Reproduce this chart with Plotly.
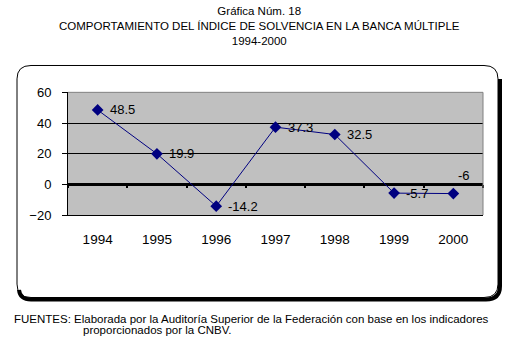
import plotly.graph_objects as go

# ---- data ----
years = ["1994", "1995", "1996", "1997", "1998", "1999", "2000"]
values = [48.5, 19.9, -14.2, 37.3, 32.5, -5.7, -6]
labels = ["48.5", "19.9", "-14.2", "37.3", "32.5", "-5.7", "-6"]
y_ticks = [-20, 0, 20, 40, 60]
title_lines = ["Gráfica Núm. 18",
               "COMPORTAMIENTO DEL ÍNDICE DE SOLVENCIA EN LA BANCA MÚLTIPLE",
               "1994-2000"]
source_lines = ["FUENTES: Elaborada por la Auditoría Superior de la Federación con base en los indicadores",
                "proporcionados por la CNBV."]

W, H = 518, 364
FONT = "Liberation Sans, Arial, sans-serif"


def px(x):
    return x / W


def py(y):
    return 1 - y / H


# plot area in pixels
PL, PR, PT, PB = 68, 483, 89, 217
ymin, ymax = -20, 60
ydom = [py(PB), py(PT)]
zero_pos = ydom[0] + (0 - ymin) / (ymax - ymin) * (ydom[1] - ydom[0])

fig = go.Figure()
fig.add_trace(go.Scatter(
    x=years, y=values, mode="lines+markers",
    line=dict(color="#000080", width=1),
    marker=dict(symbol="diamond", size=9, color="#000080"),
    hoverinfo="skip", showlegend=False,
))
# invisible trace carrying the zero-crossing tick axis
fig.add_trace(go.Scatter(
    x=years, y=values, xaxis="x2", mode="markers",
    marker=dict(opacity=0), hoverinfo="skip", showlegend=False,
))

# data labels (x given as category index)
for i, (v, t) in enumerate(zip(values, labels)):
    if i == len(years) - 1:
        xs, ys = 3, 18
    else:
        xs, ys = 10, 0
    fig.add_annotation(x=i, y=v, xref="x", yref="y", text=t, showarrow=False,
                       xanchor="left", yanchor="middle", xshift=xs, yshift=ys,
                       font=dict(family=FONT, size=13, color="black"))

# title block
fig.add_annotation(x=0.5, y=py(20), xref="paper", yref="paper",
                   text="<br>".join(title_lines),
                   showarrow=False, xanchor="center", yanchor="middle", align="center",
                   font=dict(family=FONT, size=11.5, color="black"))

# footer
fig.add_annotation(x=px(12), y=py(325), xref="paper", yref="paper",
                   text=source_lines[0],
                   showarrow=False, xanchor="left", yanchor="middle",
                   font=dict(family=FONT, size=11.5, color="black"))
fig.add_annotation(x=px(81), y=py(337), xref="paper", yref="paper",
                   text=source_lines[1],
                   showarrow=False, xanchor="left", yanchor="middle",
                   font=dict(family=FONT, size=11.5, color="black"))

# outer rounded frame
L, T, R, B, r = 17, 61, 498, 303, 14
frame = (f"M {px(L+r)} {py(T)} L {px(R-r)} {py(T)} Q {px(R)} {py(T)} {px(R)} {py(T+r)} "
         f"L {px(R)} {py(B-r)} Q {px(R)} {py(B)} {px(R-r)} {py(B)} "
         f"L {px(L+r)} {py(B)} Q {px(L)} {py(B)} {px(L)} {py(B-r)} "
         f"L {px(L)} {py(T+r)} Q {px(L)} {py(T)} {px(L+r)} {py(T)} Z")
fig.add_shape(type="path", path=frame, xref="paper", yref="paper",
              line=dict(color="black", width=1))
o = 2
shadow = (f"M {px(R+o)} {py(T+r)} L {px(R+o)} {py(B-r+o)} "
          f"Q {px(R+o)} {py(B+o)} {px(R-r+o)} {py(B+o)} "
          f"L {px(L+r)} {py(B+o)} Q {px(L+3)} {py(B+o)} {px(L+2)} {py(B-r+6)}")
fig.add_shape(type="path", path=shadow, xref="paper", yref="paper",
              line=dict(color="black", width=4))

# gray top/right plot border
fig.add_shape(type="line", xref="x domain", yref="y domain", x0=0, x1=1, y0=1, y1=1,
              line=dict(color="#808080", width=1), layer="above")
fig.add_shape(type="line", xref="x domain", yref="y domain", x0=1, x1=1, y0=0, y1=1,
              line=dict(color="#808080", width=1), layer="above")

fig.update_layout(
    width=W, height=H,
    margin=dict(l=0, r=0, t=0, b=0),
    paper_bgcolor="white", plot_bgcolor="#C0C0C0",
    font=dict(family=FONT, size=13, color="black"),
    xaxis=dict(domain=[px(PL), px(PR)], type="category", range=[-0.5, 6.5],
               showline=True, linecolor="black", linewidth=1, ticks="",
               showgrid=False, zeroline=False, ticklabelstandoff=12,
               tickfont=dict(family=FONT, size=13.5, color="black")),
    xaxis2=dict(overlaying="x", anchor="free", position=zero_pos, side="bottom",
                type="category", range=[-0.5, 6.5], tickson="boundaries",
                ticks="outside", ticklen=3, tickwidth=2, tickcolor="black",
                showticklabels=False, showgrid=False, showline=False, zeroline=False),
    yaxis=dict(domain=ydom, range=[ymin, ymax], tickvals=y_ticks,
               showline=True, linecolor="black", linewidth=1,
               ticks="outside", ticklen=5, tickcolor="black",
               showgrid=True, gridcolor="black", gridwidth=1,
               zeroline=True, zerolinecolor="black", zerolinewidth=3,
               ticklabelstandoff=8,
               tickfont=dict(family=FONT, size=13, color="black")),
)

fig.write_html("out.html", config={"displayModeBar": False},
               post_script="document.body.style.margin='0';document.body.style.overflow='hidden';")
